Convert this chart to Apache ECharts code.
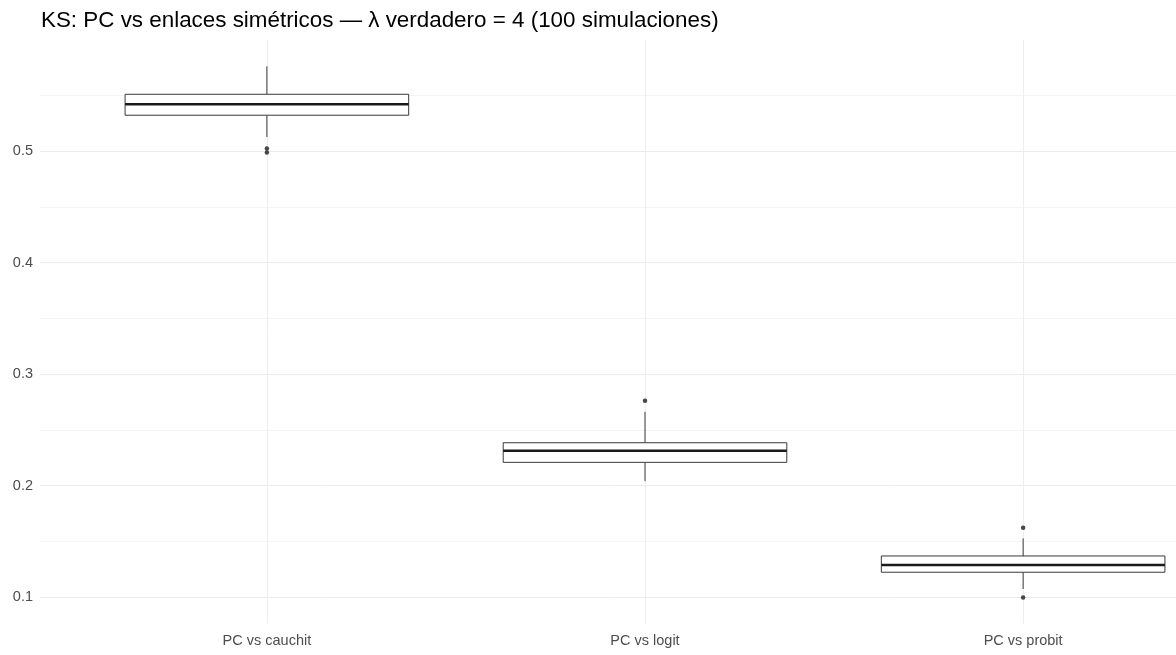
<!DOCTYPE html>
<html>
<head>
<meta charset="utf-8">
<script src="https://cdn.jsdelivr.net/npm/echarts@6/dist/echarts.min.js"></script>
<style>
  html, body { margin: 0; padding: 0; background: #ffffff; }
  #chart { width: 1176px; height: 655px; }
</style>
</head>
<body>
<div id="chart"></div>
<script>
// KS distances between the PC link and the symmetric links (100 simulations, true lambda = 4)
const categories = ['PC vs cauchit', 'PC vs logit', 'PC vs probit'];

// Box statistics per comparison
const lowerWhisker = [0.5128, 0.2040, 0.1072];
const quartile1    = [0.5323, 0.2208, 0.1222];
const medianValue  = [0.5422, 0.2312, 0.1287];
const quartile3    = [0.5511, 0.2384, 0.1368];
const upperWhisker = [0.5762, 0.2662, 0.1526];

// Points beyond the whiskers (category position, KS value)
const outlierCategory = [1, 1, 2, 3, 3];
const outlierValue    = [0.5025, 0.4988, 0.2761, 0.1622, 0.0995];

// Axis breaks
const yMajorTicks = [0.1, 0.2, 0.3, 0.4, 0.5];
const yAllBreaks  = [0.1, 0.15, 0.2, 0.25, 0.3, 0.35, 0.4, 0.45, 0.5, 0.55];
const yLimits = [0.0762, 0.5998];
const xPositions = [1, 2, 3];

const boxData = categories.map((c, i) => [
  xPositions[i], lowerWhisker[i], quartile1[i], medianValue[i], quartile3[i], upperWhisker[i]
]);
const outlierData = outlierValue.map((v, i) => [outlierCategory[i], v]);

const FONT = "'Liberation Sans', Arial, sans-serif";

function renderBox(params, api) {
  const x = api.value(0);
  const halfW = api.size([0.75, 0])[0] / 2;
  const pMin = api.coord([x, api.value(1)]);
  const pQ1 = api.coord([x, api.value(2)]);
  const pMed = api.coord([x, api.value(3)]);
  const pQ3 = api.coord([x, api.value(4)]);
  const pMax = api.coord([x, api.value(5)]);
  const cx = pMed[0];
  const stroke = '#3a3a3a';
  return {
    type: 'group',
    children: [
      { type: 'line', shape: { x1: cx, y1: pQ3[1], x2: cx, y2: pMax[1] },
        style: { stroke: stroke, lineWidth: 1 } },
      { type: 'line', shape: { x1: cx, y1: pQ1[1], x2: cx, y2: pMin[1] },
        style: { stroke: stroke, lineWidth: 1 } },
      { type: 'rect', shape: { x: cx - halfW, y: pQ3[1], width: 2 * halfW, height: pQ1[1] - pQ3[1] },
        style: { fill: '#ffffff', stroke: stroke, lineWidth: 1 } },
      { type: 'line', shape: { x1: cx - halfW, y1: pMed[1], x2: cx + halfW, y2: pMed[1] },
        style: { stroke: '#1a1a1a', lineWidth: 2.6 } }
    ]
  };
}

const chart = echarts.init(document.getElementById('chart'), null, { renderer: 'canvas' });
chart.setOption({
  animation: false,
  backgroundColor: '#ffffff',
  title: {
    text: 'KS: PC vs enlaces simétricos — λ verdadero = 4 (100 simulaciones)',
    left: 36, top: 5,
    textStyle: { fontFamily: FONT, fontSize: 22.4, fontWeight: 'normal', color: '#000000' }
  },
  grid: { left: 40, top: 40, width: 1210, bottom: 31.5, outerBoundsMode: 'none', containLabel: false },
  xAxis: {
    type: 'value', min: 0.4, max: 3.6,
    axisLine: { show: false },
    axisTick: { show: false, customValues: xPositions },
    axisLabel: {
      customValues: xPositions, margin: 10,
      fontFamily: FONT, fontSize: 14.5, color: '#4d4d4d',
      formatter: v => categories[Math.round(v) - 1] || ''
    },
    splitLine: { show: true, lineStyle: { color: '#eeeeee', width: 1 } }
  },
  yAxis: {
    type: 'value', min: yLimits[0], max: yLimits[1],
    axisLine: { show: false },
    axisTick: { show: false, customValues: yAllBreaks },
    axisLabel: {
      customValues: yMajorTicks, margin: 7,
      fontFamily: FONT, fontSize: 14.5, color: '#4d4d4d',
      formatter: v => v.toFixed(1)
    },
    splitLine: { show: true, lineStyle: { color: ['#ebebeb', '#f4f4f4'], width: 1 } }
  },
  series: [
    {
      type: 'custom',
      renderItem: renderBox,
      data: boxData,
      encode: { x: 0, y: [1, 2, 3, 4, 5] },
      silent: true, z: 2
    },
    {
      type: 'scatter',
      data: outlierData,
      symbol: 'circle', symbolSize: 4.5,
      itemStyle: { color: '#1a1a1a' },
      silent: true, z: 3
    }
  ]
});
</script>
</body>
</html>
